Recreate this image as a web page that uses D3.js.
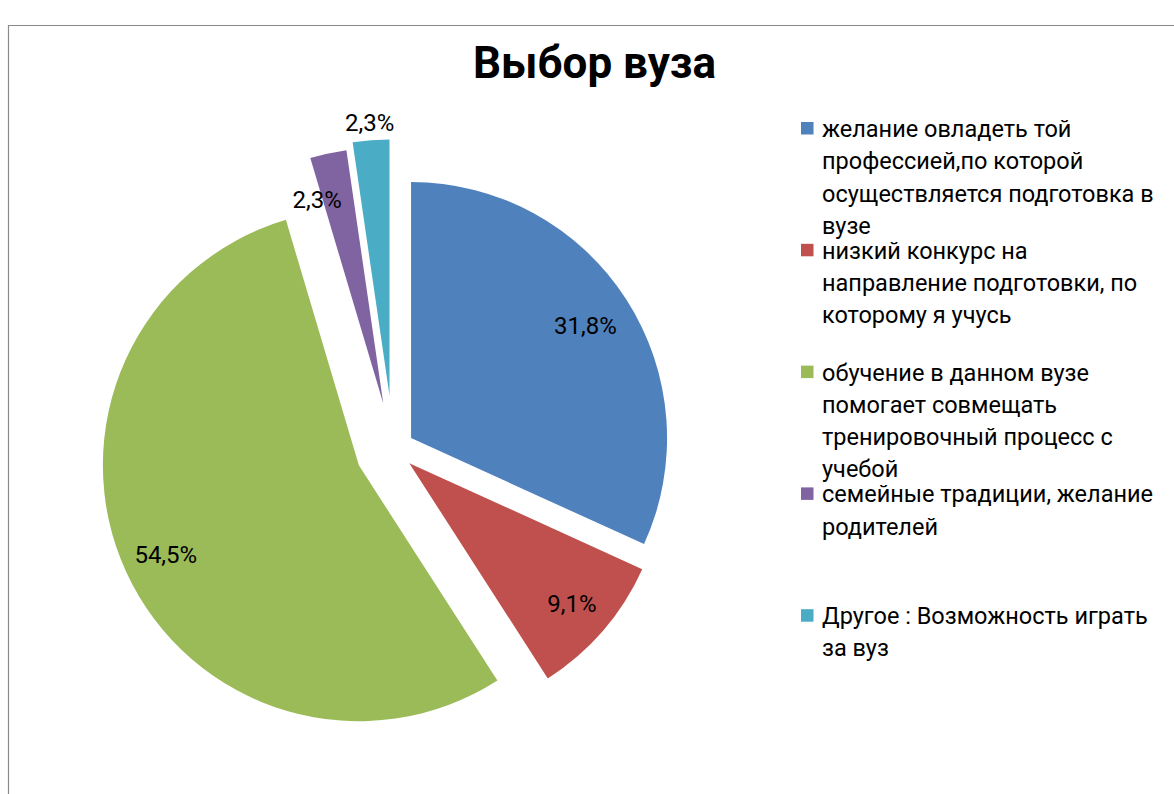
<!DOCTYPE html>
<html>
<head>
<meta charset="utf-8">
<script src="https://cdn.jsdelivr.net/npm/d3@7"></script>
<style>
  body { margin: 0; background: #fff; }
  text { font-family: Roboto, "Open Sans", sans-serif; fill: #000; }
</style>
</head>
<body>
<div id="chart"></div>
<script>
// data
var title = "Выбор вуза";
var categories = [
    ["желание овладеть той", "профессией,по которой", "осуществляется подготовка в", "вузе"],
    ["низкий конкурс на", "направление подготовки, по", "которому я учусь"],
    ["обучение в данном вузе", "помогает совмещать", "тренировочный процесс с", "учебой"],
    ["семейные традиции, желание", "родителей"],
    ["Другое : Возможность играть", "за вуз"]
];
var values = [31.8, 9.1, 54.5, 2.3, 2.3];
var labels = ["31,8%", "9,1%", "54,5%", "2,3%", "2,3%"];
var colors = ["#4F81BD", "#C0504D", "#9BBB59", "#8064A2", "#4BACC6"];

// how far each slice is pulled out, and where its label sits
var explode = [21, 21, 38, 47, 54];
var labelRadius = [0.81, 0.84, 0.83, 0.84, 1.07];
var labelShift = [0, 0, 0, -5.5, 0]; // degrees

function init() {
    var width = 1174, height = 794;
    var cx = 393.4, cy = 449.4, r = 256;

    var svg = d3.select("#chart")
        .append("svg")
        .attr("width", width)
        .attr("height", height);

    // chart area border (only left and top visible)
    svg.append("path")
        .attr("d", `M8.5,${height} V25.5 H${width}`)
        .attr("fill", "none")
        .attr("stroke", "#8a8a8a")
        .attr("stroke-width", 1.2);

    svg.append("text")
        .attr("x", 594.5)
        .attr("y", 78)
        .attr("text-anchor", "middle")
        .style("font-size", "44px")
        .style("font-weight", "bold")
        .text(title);

    var pie = d3.pie().sort(null).value(d => d);
    var arcs = pie(values);
    var arc = d3.arc().innerRadius(0).outerRadius(r);

    var g = svg.append("g").attr("transform", `translate(${cx},${cy})`);

    var slices = g.selectAll("g.slice")
        .data(arcs)
        .enter()
        .append("g")
        .attr("class", "slice")
        .attr("transform", (d, i) => {
            var a = (d.startAngle + d.endAngle) / 2;
            return `translate(${explode[i] * Math.sin(a)},${-explode[i] * Math.cos(a)})`;
        });

    slices.append("path")
        .attr("d", arc)
        .attr("fill", (d, i) => colors[i]);

    slices.append("text")
        .attr("transform", (d, i) => {
            var a = (d.startAngle + d.endAngle) / 2 + labelShift[i] * Math.PI / 180;
            var lr = labelRadius[i] * r;
            return `translate(${lr * Math.sin(a)},${-lr * Math.cos(a)})`;
        })
        .attr("text-anchor", "middle")
        .attr("dy", "0.36em")
        .style("font-size", "24px")
        .text((d, i) => labels[i]);

    // legend
    var legend = svg.append("g").attr("transform", "translate(801,137)");
    var entry = legend.selectAll("g")
        .data(categories)
        .enter()
        .append("g")
        .attr("transform", (d, i) => `translate(0,${i * 121.8})`);

    entry.append("rect")
        .attr("x", 0)
        .attr("y", -15)
        .attr("width", 12.5)
        .attr("height", 12.5)
        .attr("fill", (d, i) => colors[i]);

    entry.append("text")
        .attr("x", 21)
        .attr("y", 0)
        .style("font-size", "23.5px")
        .selectAll("tspan")
        .data(d => d)
        .enter()
        .append("tspan")
        .attr("x", 21)
        .attr("dy", (d, i) => i === 0 ? 0 : 32.3)
        .text(d => d);
}

window.onload = init;
</script>
</body>
</html>
